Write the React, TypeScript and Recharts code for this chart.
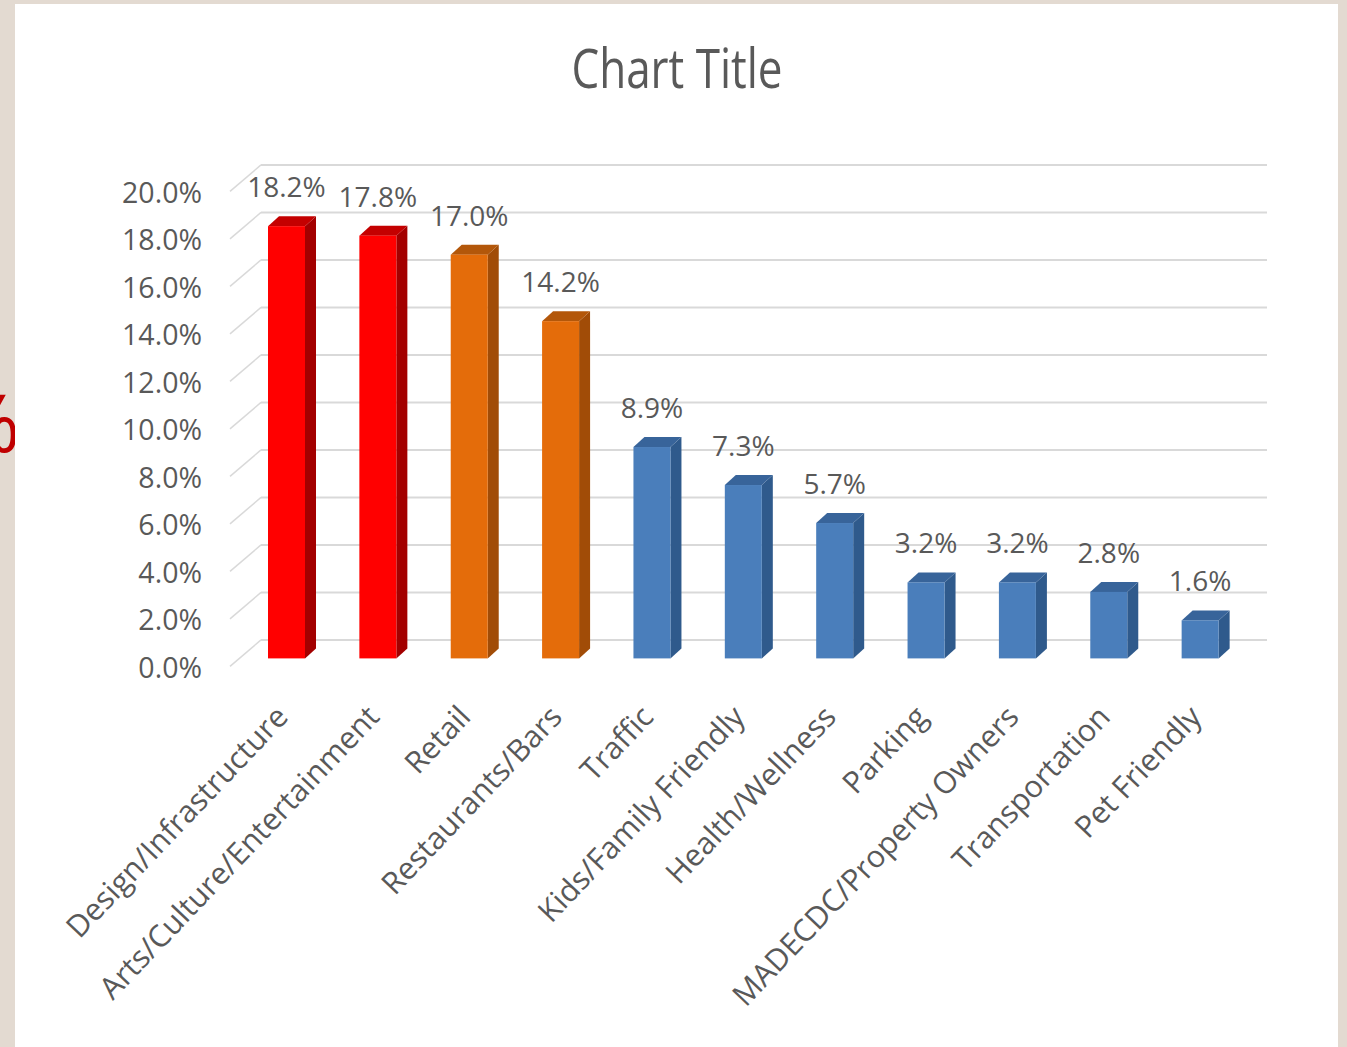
import React from 'react';
import { BarChart, Bar, XAxis, YAxis, CartesianGrid, Cell, LabelList } from 'recharts';

const categories = [
  'Design/Infrastructure',
  'Arts/Culture/Entertainment',
  'Retail',
  'Restaurants/Bars',
  'Traffic',
  'Kids/Family Friendly',
  'Health/Wellness',
  'Parking',
  'MADECDC/Property Owners',
  'Transportation',
  'Pet Friendly',
];
const shares = [18.2, 17.8, 17.0, 14.2, 8.9, 7.3, 5.7, 3.2, 3.2, 2.8, 1.6];
const yTicks = [0, 2, 4, 6, 8, 10, 12, 14, 16, 18, 20];
const chartTitle = 'Chart Title';

// style lookups (not data)
const barTone = ['red', 'red', 'orange', 'orange', 'blue', 'blue', 'blue', 'blue', 'blue', 'blue', 'blue'];
const palette: Record<string, { front: string; side: string; top: string }> = {
  red: { front: '#ff0000', side: '#a30000', top: '#c40000' },
  orange: { front: '#e46c0a', side: '#a14c07', top: '#b3570a' },
  blue: { front: '#4a7ebb', side: '#2f5a8c', top: '#38649a' },
};

const data = categories.map((name, i) => ({ name, value: shares[i] }));

const FONT = '"Open Sans", "Noto Sans", sans-serif';
const TEXT = '#595959';
const GRID = '#d9d9d9';
const DX = 11;
const DY = 10;

const Bar3D = (props: any) => {
  const { x, y, width, height, index } = props;
  const c = palette[barTone[index]] || palette.blue;
  return (
    <g>
      <polygon
        points={`${x + width},${y} ${x + width + DX},${y - DY} ${x + width + DX},${y + height - DY} ${x + width},${y + height}`}
        fill={c.side}
      />
      <polygon
        points={`${x},${y} ${x + DX},${y - DY} ${x + width + DX},${y - DY} ${x + width},${y}`}
        fill={c.top}
      />
      <rect x={x} y={y} width={width} height={height} fill={c.front} />
    </g>
  );
};

const gridLine = (p: any) => {
  const { x1, y1, x2, key } = p;
  return (
    <g key={key}>
      <line x1={x1 + 20} y1={y1 - 18.5} x2={x2 + 21} y2={y1 - 18.5} stroke={GRID} strokeWidth={2} />
      <line x1={x1 - 11} y1={y1 + 8} x2={x1 + 20} y2={y1 - 18.5} stroke={GRID} strokeWidth={1.5} />
    </g>
  );
};

const PctTick = (props: any) => {
  const { x, y, payload } = props;
  return (
    <text x={x} y={y + 9} dy="0.36em" textAnchor="end" fill={TEXT} fontSize={28.5} fontFamily={FONT}>
      {`${Number(payload.value).toFixed(1)}%`}
    </text>
  );
};

const CatTick = (props: any) => {
  const { x, y, payload } = props;
  return (
    <g transform={`translate(${x + 3},${y + 60})`}>
      <text transform="rotate(-46.5)" textAnchor="end" fill={TEXT} fontSize={30.5} fontFamily={FONT}>
        {payload.value}
      </text>
    </g>
  );
};

const ValueLabel = (props: any) => {
  const { x, y, width, value } = props;
  return (
    <text x={x + width / 2} y={y - 39} dy="0.36em" textAnchor="middle" fill={TEXT} fontSize={28} fontFamily={FONT}>
      {`${Number(value).toFixed(1)}%`}
    </text>
  );
};

export default function App() {
  return (
    <div
      style={{
        position: 'absolute',
        left: 0,
        top: 0,
        width: 1347,
        height: 1047,
        overflow: 'hidden',
        background: '#e3dad1',
      }}
    >
      <svg width={1347} height={1047} style={{ position: 'absolute', left: 0, top: 0 }}>
        <text x={-46} y={452} fontSize={80} fill="#c00000" fontFamily={FONT}>
          %
        </text>
        <rect x={15} y={4} width={1323} height={1043} fill="#ffffff" />
        <text
          transform="translate(677,88) scale(1,1.25)"
          x={0}
          y={0}
          textAnchor="middle"
          fill={TEXT}
          fontSize={44}
          fontFamily={FONT}
        >
          {chartTitle}
        </text>
      </svg>
      <div style={{ position: 'absolute', left: 0, top: 0 }}>
        <BarChart
          width={1347}
          height={1047}
          data={data}
          margin={{ top: 183.4, right: 101, bottom: 88.6, left: 181 }}
          barSize={37}
        >
          <CartesianGrid vertical={false} horizontal={gridLine} />
          <YAxis
            type="number"
            domain={[0, 20]}
            ticks={yTicks}
            width={60}
            axisLine={false}
            tickLine={false}
            tickSize={0}
            tickMargin={39}
            tick={<PctTick />}
            interval={0}
          />
          <XAxis
            dataKey="name"
            type="category"
            height={300}
            axisLine={false}
            tickLine={false}
            tickSize={0}
            tickMargin={0}
            interval={0}
            tick={<CatTick />}
          />
          <Bar dataKey="value" shape={<Bar3D />} isAnimationActive={false}>
            {data.map((d, i) => (
              <Cell key={d.name} fill={palette[barTone[i]].front} />
            ))}
            <LabelList dataKey="value" content={<ValueLabel />} />
          </Bar>
        </BarChart>
      </div>
    </div>
  );
}
